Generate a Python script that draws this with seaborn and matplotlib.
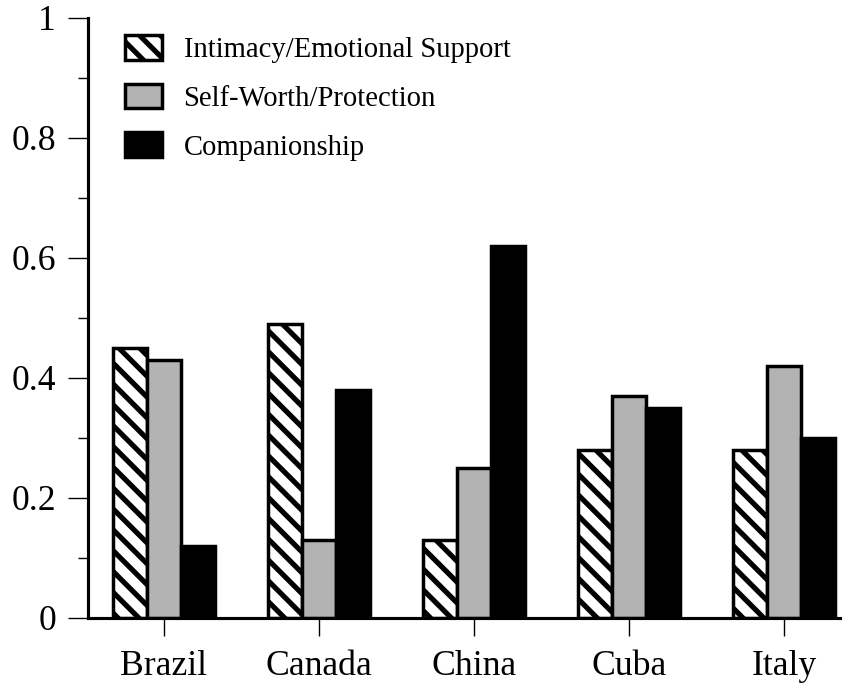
import pandas as pd
import seaborn as sns
from matplotlib import pyplot as plt
from matplotlib.ticker import MultipleLocator

countries = ['Brazil', 'Canada', 'China', 'Cuba', 'Italy']
intimacy = [0.45, 0.49, 0.13, 0.28, 0.28]
self_worth = [0.43, 0.13, 0.25, 0.37, 0.42]
companionship = [0.12, 0.38, 0.62, 0.35, 0.30]
series = ['Intimacy/Emotional Support', 'Self-Worth/Protection', 'Companionship']

sns.set_style('ticks')
plt.rcParams['font.family'] = ['Liberation Serif', 'DejaVu Serif']
plt.rcParams['hatch.linewidth'] = 3.0
for key in ['text.color', 'axes.edgecolor', 'xtick.color', 'ytick.color',
            'axes.labelcolor']:
    plt.rcParams[key] = 'black'

dataf = pd.DataFrame({
    'country': countries * 3,
    'value': intimacy + self_worth + companionship,
    'type': [s for s in series for _ in countries],
})

fig = plt.figure(figsize=(6.784, 5.512), dpi=125)
ax = fig.add_axes([88/848, 71/689, 752/848, 600/689])
sns.barplot(data=dataf, x='country', y='value', hue='type', hue_order=series,
            palette=['white', '#b3b3b3', 'black'], width=0.66,
            edgecolor='black', linewidth=2.0, saturation=1, legend=False, ax=ax)

# hatch the first series with thick backslashes
for bar in ax.containers[0]:
    bar.set_hatch('\\\\')

ax.set_xlim(-0.49, 4.36)
ax.set_ylim(0, 1)
ax.set_yticks([0, 0.2, 0.4, 0.6, 0.8, 1])
ax.set_yticklabels(['0', '0.2', '0.4', '0.6', '0.8', '1'])
ax.yaxis.set_minor_locator(MultipleLocator(0.1))
ax.set_xlabel('')
ax.set_ylabel('')
sns.despine(ax=ax)
for side in ['left', 'bottom']:
    ax.spines[side].set_linewidth(1.8)
ax.tick_params(axis='y', which='major', length=11.5, width=0.8, labelsize=20.5, pad=7)
ax.tick_params(axis='y', which='minor', length=5.8, width=0.8)
ax.tick_params(axis='x', length=10.4, width=0.8, labelsize=20.5, pad=8)

ax.legend(ax.containers, series, loc='upper left', bbox_to_anchor=(0.049, 0.972),
          frameon=False, fontsize=16.5, borderpad=0, borderaxespad=0,
          handlelength=1.3, handleheight=0.95, handletextpad=0.75, labelspacing=0.72)

plt.savefig('out.png', dpi=125)
plt.clf()
